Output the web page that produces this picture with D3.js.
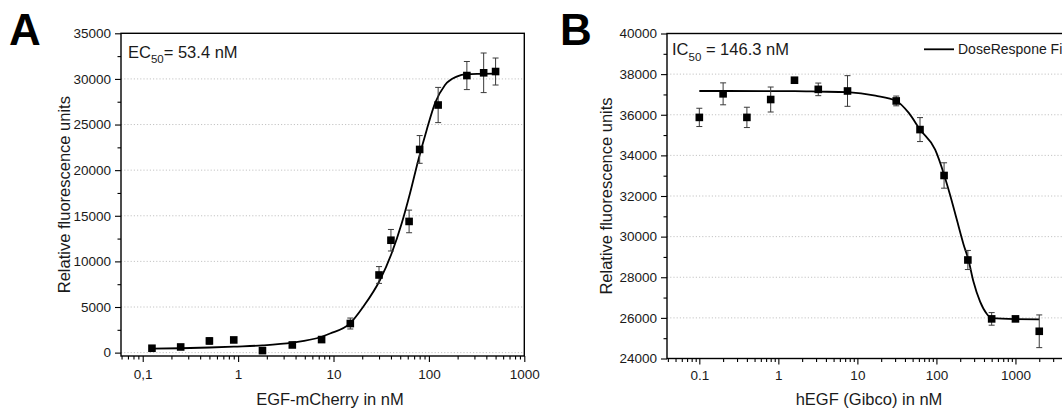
<!DOCTYPE html>
<html>
<head>
<meta charset="utf-8">
<script src="https://cdn.jsdelivr.net/npm/d3@7"></script>
<style>
  body { margin: 0; background: #fff; }
  svg { display: block; font-family: 'Liberation Sans', Arial, sans-serif; }
</style>
</head>
<body>
<script>
// panel A: EGF-mCherry dose response
const doseA = [0.125, 0.25, 0.5, 0.9, 1.8, 3.7, 7.5, 15, 30, 40, 62, 80, 125, 250, 375, 500];
const rfuA = [480, 620, 1280, 1390, 220, 840, 1430, 3190, 8510, 12320, 14380, 22270, 27140, 30370, 30670, 30810];
const errA = [150, 250, 350, 250, 200, 150, 250, 600, 920, 1180, 1240, 1520, 1930, 1540, 2170, 1480];
const fitDoseA = [0.125, 0.25, 0.5, 0.9, 1.8, 3.7, 7.5, 9.2, 14.9, 20.5, 30.7, 40.7, 51.9, 63.4, 77.5, 94.8, 116, 147.5, 195.5, 249, 343, 500];
const fitRfuA = [430, 480, 560, 660, 790, 1090, 1740, 2100, 3210, 5030, 7960, 10890, 14180, 17470, 21120, 24410, 27340, 29340, 30250, 30520, 30560, 30580];
const xTicksA = [0.1, 1, 10, 100, 1000];
const xLabelsA = ['0,1', '1', '10', '100', '1000'];
const yTicksA = [0, 5000, 10000, 15000, 20000, 25000, 30000, 35000];
const gridA = [0, 5000, 10000, 15000, 20000, 25000, 30000];

// panel B: hEGF (Gibco) competition
const doseB = [0.1, 0.2, 0.4, 0.8, 1.6, 3.2, 7.5, 31, 62, 125, 250, 500, 1000, 2000];
const rfuB = [35870, 37030, 35870, 36750, 37700, 37250, 37170, 36680, 35270, 33010, 28850, 25950, 25950, 25340];
const errB = [450, 540, 500, 615, 120, 310, 755, 240, 590, 625, 470, 310, 100, 805];
const fitDoseB = [0.1, 1.6, 3.2, 7.5, 16.9, 31.2, 44.7, 62, 96.4, 125, 149, 181, 220, 254, 294, 357, 435, 502, 1000, 2000];
const fitRfuB = [37170, 37160, 37140, 37110, 36940, 36680, 36090, 35270, 34280, 33050, 32050, 30840, 29630, 28860, 27790, 26800, 26190, 25985, 25940, 25930];
const xTicksB = [0.1, 1, 10, 100, 1000];
const xLabelsB = ['0.1', '1', '10', '100', '1000'];
const yTicksB = [24000, 26000, 28000, 30000, 32000, 34000, 36000, 38000, 40000];
const gridB = [26000, 28000, 30000, 32000, 34000, 36000, 38000];

const W = 1062, H = 409;
const svg = d3.select('body').append('svg').attr('width', W).attr('height', H);

function logMinor(domain) {
  const out = [];
  for (let d = Math.floor(Math.log10(domain[0])); d <= Math.ceil(Math.log10(domain[1])); d++) {
    for (let k = 2; k <= 9; k++) {
      const v = k * Math.pow(10, d);
      if (v >= domain[0] && v <= domain[1]) out.push(v);
    }
  }
  return out;
}

function drawPanel(p) {
  const x = d3.scaleLog().domain(p.xDomain).range(p.xRange);
  const y = d3.scaleLinear().domain(p.yDomain).range(p.yRange);
  const g = svg.append('g');
  const [x0, x1] = p.xRange;
  const [yb, yt] = p.yRange;

  // dotted grid
  g.append('g').selectAll('line').data(p.grid).join('line')
    .attr('x1', x0).attr('x2', x1)
    .attr('y1', d => y(d)).attr('y2', d => y(d))
    .attr('stroke', '#c4c4c4').attr('stroke-width', 1)
    .attr('stroke-dasharray', '1.2,2');

  // frame
  g.append('rect')
    .attr('x', x0).attr('y', yt).attr('width', x1 - x0).attr('height', yb - yt)
    .attr('fill', 'none').attr('stroke', '#000').attr('stroke-width', 1.4);

  // x axis
  const xAx = g.append('g').attr('transform', `translate(0,${yb})`)
    .call(d3.axisBottom(x).tickValues(p.xTicks).tickFormat((d, i) => p.xLabels[i])
      .tickSize(6).tickPadding(p.xPad).tickSizeOuter(0));
  g.append('g').attr('transform', `translate(0,${yb})`)
    .call(d3.axisBottom(x).tickValues(logMinor(p.xDomain)).tickFormat('').tickSize(3.5).tickSizeOuter(0));

  // y axis
  const yAx = g.append('g').attr('transform', `translate(${x0},0)`)
    .call(d3.axisLeft(y).tickValues(p.yTicks).tickFormat(d3.format('d'))
      .tickSize(6).tickPadding(4).tickSizeOuter(0));
  g.append('g').attr('transform', `translate(${x0},0)`)
    .call(d3.axisLeft(y).tickValues(p.yMinor).tickFormat('').tickSize(3.5).tickSizeOuter(0));

  g.selectAll('.domain').remove();
  g.selectAll('.tick line').attr('stroke', '#000').attr('stroke-width', 1.1);
  [xAx, yAx].forEach(a => a.selectAll('text')
    .attr('fill', '#1a1a1a').style('font-size', '13.5px')
    .style('font-family', "'Liberation Sans', Arial, sans-serif"));

  // fit curve
  const fit = p.fitDose.map((d, i) => [d, p.fitRfu[i]]);
  g.append('path').datum(fit)
    .attr('fill', 'none').attr('stroke', '#000').attr('stroke-width', 1.8)
    .attr('d', d3.line().x(d => x(d[0])).y(d => y(d[1])).curve(d3.curveMonotoneX));

  // error bars + markers
  const pts = p.dose.map((d, i) => ({ x: d, y: p.rfu[i], e: p.err[i] }));
  const eb = g.append('g').attr('stroke', '#3a3a3a').attr('stroke-width', 1);
  eb.selectAll('.v').data(pts).join('line')
    .attr('x1', d => x(d.x)).attr('x2', d => x(d.x))
    .attr('y1', d => y(d.y - d.e)).attr('y2', d => y(d.y + d.e));
  eb.selectAll('.t').data(pts.flatMap(d => [[d.x, d.y + d.e], [d.x, d.y - d.e]])).join('line')
    .attr('x1', d => x(d[0]) - 3).attr('x2', d => x(d[0]) + 3)
    .attr('y1', d => y(d[1])).attr('y2', d => y(d[1]));
  g.append('g').selectAll('rect').data(pts).join('rect')
    .attr('x', d => x(d.x) - 3.8).attr('y', d => y(d.y) - 3.8)
    .attr('width', 7.6).attr('height', 7.6).attr('fill', '#000');

  // axis titles
  g.append('text').attr('x', p.xTitleX).attr('y', 405)
    .attr('text-anchor', 'middle').style('font-size', '16.5px').attr('fill', '#1a1a1a')
    .text(p.xTitle);
  g.append('text')
    .attr('transform', `translate(${p.yTitleX},${(yb + yt) / 2}) rotate(-90)`)
    .attr('text-anchor', 'middle').style('font-size', '16.5px').attr('fill', '#1a1a1a')
    .text('Relative fluorescence units');

  // panel letter
  g.append('text').attr('x', p.letterX).attr('y', 45)
    .style('font-size', '44px').style('font-weight', 'bold').text(p.letter);

  // EC50 / IC50 label
  const lab = g.append('text').attr('x', p.labX).attr('y', p.labY)
    .style('font-size', '16.5px').attr('fill', '#1a1a1a');
  lab.append('tspan').text(p.labPre);
  lab.append('tspan').attr('dy', 5.5).style('font-size', '11.5px').text('50');
  lab.append('tspan').attr('dy', -5.5).text(p.labPost);

  return { x, y, g };
}

drawPanel({
  xDomain: [0.0592, 1000], xRange: [121, 524.3],
  yDomain: [-370, 35000], yRange: [356, 33.3],
  xTicks: xTicksA, xLabels: xLabelsA, xPad: 7,
  yTicks: yTicksA, yMinor: d3.range(2500, 35000, 5000), grid: gridA,
  dose: doseA, rfu: rfuA, err: errA, fitDose: fitDoseA, fitRfu: fitRfuA,
  xTitle: 'EGF-mCherry in nM', xTitleX: 330, yTitleX: 70,
  letter: 'A', letterX: 9,
  labPre: 'EC', labPost: '= 53.4 nM', labX: 128, labY: 57.7
});

const pb = drawPanel({
  xDomain: [0.039, 4900], xRange: [667, 1070],
  yDomain: [24000, 40000], yRange: [358.5, 33.5],
  xTicks: xTicksB, xLabels: xLabelsB, xPad: 6,
  yTicks: yTicksB, yMinor: d3.range(25000, 40000, 2000), grid: gridB,
  dose: doseB, rfu: rfuB, err: errB, fitDose: fitDoseB, fitRfu: fitRfuB,
  xTitle: 'hEGF (Gibco) in nM', xTitleX: 869, yTitleX: 612,
  letter: 'B', letterX: 560,
  labPre: 'IC', labPost: ' = 146.3 nM', labX: 672, labY: 55
});

// legend
const leg = pb.g.append('g').attr('transform', 'translate(924,49.3)');
leg.append('line').attr('x1', 0).attr('x2', 30).attr('stroke', '#000').attr('stroke-width', 1.8);
leg.append('text').attr('x', 34).attr('y', 5).style('font-size', '14px').attr('fill', '#1a1a1a')
  .text('DoseRespone Fit');
</script>
</body>
</html>
